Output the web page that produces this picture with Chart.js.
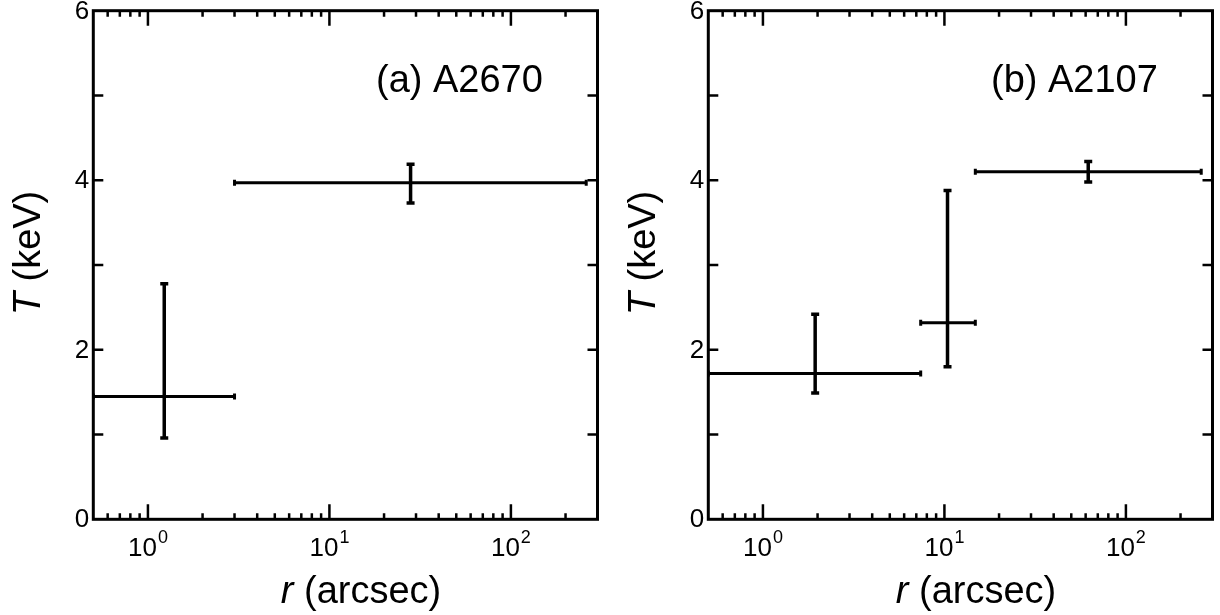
<!DOCTYPE html>
<html>
<head>
<meta charset="utf-8">
<title>Temperature profiles</title>
<script src="https://cdn.jsdelivr.net/npm/chart.js@4.4.1/dist/chart.umd.min.js"></script>
<style>
  html, body { margin: 0; padding: 0; background: #fff; }
  body { width: 1220px; height: 615px; position: relative; overflow: hidden; }
  canvas { position: absolute; top: 0; }
  #panelA { left: 0; }
  #panelB { left: 615px; }
</style>
</head>
<body>
<canvas id="panelA" width="605" height="615"></canvas>
<canvas id="panelB" width="605" height="615"></canvas>
<script>
// ---- A2670: radial bins (arcsec) and temperatures (keV) ----
const a2670R    = [1.23, 28];
const a2670RLo  = [0.5, 3.0];
const a2670RHi  = [3.0, 260];
const a2670T    = [1.45, 3.97];
const a2670TLo  = [0.96, 3.73];
const a2670THi  = [2.78, 4.19];

// ---- A2107 ----
const a2107R    = [1.94, 10.4, 62];
const a2107RLo  = [0.5, 7.4, 14.8];
const a2107RHi  = [7.4, 14.8, 260];
const a2107T    = [1.72, 2.32, 4.10];
const a2107TLo  = [1.49, 1.80, 3.98];
const a2107THi  = [2.42, 3.88, 4.22];

// ---- axes ----
const xMin = 0.5, xMax = 300;
const yMin = 0, yMax = 6;
const xMajorTicks = [1, 10, 100];
const xMajorExp   = ['0', '1', '2'];
const xMinorTicks = [0.6, 0.7, 0.8, 0.9, 2, 3, 4, 5, 6, 7, 8, 9,
                     20, 30, 40, 50, 60, 70, 80, 90, 200];
const yTickValues = [1, 2, 3, 4, 5];
const yTickLabels = [0, 2, 4, 6];

const FONT = '"Liberation Sans", Arial, Helvetica, sans-serif';

function errorBarSets(r, rLo, rHi, t, tLo, tHi) {
  const sets = [];
  for (let i = 0; i < r.length; i++) {
    sets.push({
      data: [{ x: rLo[i], y: t[i] }, { x: rHi[i], y: t[i] }],
      showLine: true,
      borderColor: '#000',
      borderWidth: 3,
      pointStyle: 'line',
      pointRotation: 90,
      pointRadius: 3,
      pointBorderWidth: 3,
      pointBorderColor: '#000'
    });
    sets.push({
      data: [{ x: r[i], y: tLo[i] }, { x: r[i], y: tHi[i] }],
      showLine: true,
      borderColor: '#000',
      borderWidth: 3.5,
      pointStyle: 'line',
      pointRotation: 0,
      pointRadius: 4,
      pointBorderWidth: 3.5,
      pointBorderColor: '#000'
    });
  }
  return sets;
}

// frame, inward ticks, tick labels, axis titles and panel tag
const framePlugin = {
  id: 'frame',
  afterDraw(chart, args, opts) {
    const { ctx, chartArea: a, scales: { x, y } } = chart;
    ctx.save();
    ctx.strokeStyle = '#000';
    ctx.fillStyle = '#000';
    ctx.lineCap = 'butt';

    ctx.lineWidth = 2.5;
    ctx.beginPath();
    xMajorTicks.forEach(v => {
      const px = x.getPixelForValue(v);
      ctx.moveTo(px, a.bottom); ctx.lineTo(px, a.bottom - 15);
      ctx.moveTo(px, a.top);    ctx.lineTo(px, a.top + 15);
    });
    xMinorTicks.forEach(v => {
      const px = x.getPixelForValue(v);
      ctx.moveTo(px, a.bottom); ctx.lineTo(px, a.bottom - 6);
      ctx.moveTo(px, a.top);    ctx.lineTo(px, a.top + 6);
    });
    yTickValues.forEach(v => {
      const py = y.getPixelForValue(v);
      ctx.moveTo(a.left, py);  ctx.lineTo(a.left + 10, py);
      ctx.moveTo(a.right, py); ctx.lineTo(a.right - 10, py);
    });
    ctx.stroke();

    ctx.lineWidth = 3;
    ctx.strokeRect(a.left, a.top, a.right - a.left, a.bottom - a.top);

    // y tick labels
    ctx.font = '26px ' + FONT;
    ctx.textAlign = 'right';
    ctx.textBaseline = 'middle';
    yTickLabels.forEach(v => {
      ctx.fillText(String(v), a.left - 4, y.getPixelForValue(v) + 1);
    });

    // x tick labels: 10 with raised exponent
    ctx.textBaseline = 'alphabetic';
    ctx.textAlign = 'left';
    xMajorTicks.forEach((v, i) => {
      const px = x.getPixelForValue(v);
      ctx.font = '26px ' + FONT;
      const wBase = ctx.measureText('10').width;
      ctx.font = '18px ' + FONT;
      const wExp = ctx.measureText(xMajorExp[i]).width;
      const x0 = px - (wBase + 1 + wExp) / 2;
      ctx.font = '26px ' + FONT;
      ctx.fillText('10', x0, 556);
      ctx.font = '18px ' + FONT;
      ctx.fillText(xMajorExp[i], x0 + wBase + 1, 543);
    });

    // mixed italic / upright title helper
    function mixed(parts, cx, baseY) {
      let total = 0;
      parts.forEach(p => { ctx.font = p[1] + ' 38px ' + FONT; total += ctx.measureText(p[0]).width; });
      let cur = cx - total / 2;
      parts.forEach(p => {
        ctx.font = p[1] + ' 38px ' + FONT;
        ctx.fillText(p[0], cur, baseY);
        cur += ctx.measureText(p[0]).width;
      });
    }

    // x axis title
    mixed([['r', 'italic'], [' (arcsec)', 'normal']], 361, 603);

    // y axis title (rotated)
    ctx.save();
    ctx.translate(40, 253);
    ctx.rotate(-Math.PI / 2);
    mixed([['T', 'italic'], [' (keV)', 'normal']], 0, 0);
    ctx.restore();

    // panel tag
    ctx.font = '38px ' + FONT;
    ctx.fillText(opts.tag, 376, 92);

    ctx.restore();
  }
};

function makeChart(id, tag, sets) {
  return new Chart(document.getElementById(id), {
    type: 'scatter',
    data: { datasets: sets },
    plugins: [framePlugin],
    options: {
      responsive: false,
      animation: false,
      events: [],
      layout: { padding: { left: 0, right: 2.7, top: 10.7, bottom: 0 } },
      plugins: {
        legend: { display: false },
        tooltip: { enabled: false },
        frame: { tag: tag }
      },
      scales: {
        x: {
          type: 'logarithmic',
          min: xMin, max: xMax,
          position: 'bottom',
          grid: { display: false },
          border: { display: false },
          ticks: { display: false },
          afterFit(s) { s.height = 95.7; }
        },
        y: {
          type: 'linear',
          min: yMin, max: yMax,
          position: 'left',
          grid: { display: false },
          border: { display: false },
          ticks: { display: false },
          afterFit(s) { s.width = 93.3; }
        }
      }
    }
  });
}

makeChart('panelA', '(a) A2670',
  errorBarSets(a2670R, a2670RLo, a2670RHi, a2670T, a2670TLo, a2670THi));
makeChart('panelB', '(b) A2107',
  errorBarSets(a2107R, a2107RLo, a2107RHi, a2107T, a2107TLo, a2107THi));
</script>
</body>
</html>
